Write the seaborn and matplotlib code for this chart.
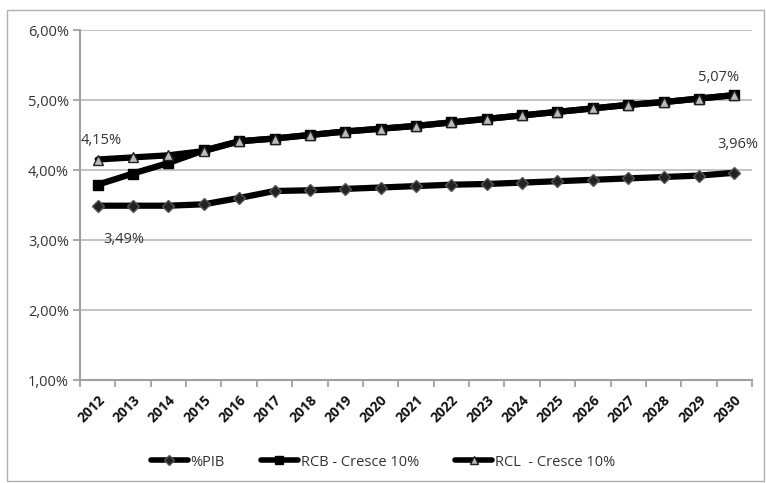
import matplotlib
matplotlib.use("Agg")
import matplotlib.pyplot as plt
import seaborn as sns
import pandas as pd
from matplotlib.lines import Line2D
from matplotlib.patches import Rectangle
from matplotlib.ticker import FuncFormatter, FixedLocator

years = [str(y) for y in range(2012, 2031)]
pib = [3.49, 3.49, 3.49, 3.51, 3.60, 3.70, 3.71, 3.73, 3.75, 3.77, 3.79, 3.80,
       3.82, 3.84, 3.86, 3.88, 3.90, 3.92, 3.96]
rcb = [3.79, 3.95, 4.10, 4.28, 4.41, 4.45, 4.50, 4.55, 4.59, 4.63, 4.68, 4.73,
       4.78, 4.83, 4.88, 4.93, 4.97, 5.02, 5.07]
rcl = [4.15, 4.18, 4.21, 4.27, 4.41, 4.45, 4.50, 4.55, 4.59, 4.63, 4.68, 4.73,
       4.78, 4.83, 4.88, 4.93, 4.97, 5.02, 5.07]
series_names = ["%PIB", "RCB - Cresce 10%", "RCL  - Cresce 10%"]

sns.set_theme(style="white")
plt.rcParams['font.family'] = ['Open Sans', 'DejaVu Sans']

fig = plt.figure(figsize=(7.66, 4.83), dpi=100)
ax = fig.add_axes([80/766, 1-380/483, (752-80)/766, 350/483])

fig.patches.append(Rectangle((7/766, 0.004), 1-7/766-0.003, 1-10/483-0.004,
                             transform=fig.transFigure, fill=False,
                             edgecolor="#b0b0b0", linewidth=1))

x = list(range(len(years)))
df = pd.DataFrame({"x": x * 3,
                   "v": pib + rcb + rcl,
                   "s": [series_names[0]] * len(x) + [series_names[1]] * len(x) + [series_names[2]] * len(x)})

styles = {
    series_names[0]: dict(marker="D", ms=6, mfc="#222222", mec="#555555"),
    series_names[1]: dict(marker="s", ms=7, mfc="#000000", mec="#000000"),
    series_names[2]: dict(marker="^", ms=6.5, mfc="#bbbbbb", mec="#222222"),
}
for name in series_names:
    sub = df[df.s == name]
    st = styles[name]
    sns.lineplot(data=sub, x="x", y="v", ax=ax, color="black", linewidth=4.5,
                 marker=st["marker"], markersize=st["ms"],
                 markerfacecolor=st["mfc"], markeredgecolor=st["mec"],
                 markeredgewidth=1, legend=False, zorder=3)

ax.set_xlim(-0.5, len(years) - 0.5)
ax.set_ylim(1.0, 6.0)
ax.set_yticks([1, 2, 3, 4, 5, 6])
ax.yaxis.set_major_formatter(FuncFormatter(lambda v, p: f"{v:.2f}".replace(".", ",") + "%"))
ax.yaxis.grid(True, color="#b8b8b8", linewidth=1.2)
ax.set_axisbelow(True)

ax.set_xticks(x)
ax.set_xticklabels(years, rotation=45, ha="right", rotation_mode="anchor",
                   fontsize=10, fontweight="bold", color="#111111")
ax.xaxis.set_minor_locator(FixedLocator([i - 0.5 for i in range(len(years) + 1)]))
ax.tick_params(axis="x", which="major", length=0, pad=9)
ax.tick_params(axis="x", which="minor", length=5, color="#999999", width=1.2, bottom=True)
ax.tick_params(axis="y", length=5, color="#999999", width=1.2, left=True,
               labelsize=10.5, labelcolor="#333333", pad=3)
ax.set_xlabel("")
ax.set_ylabel("")

for s in ["top", "right"]:
    ax.spines[s].set_visible(False)
for s in ["left", "bottom"]:
    ax.spines[s].set_color("#a0a0a0")
    ax.spines[s].set_linewidth(1.5)

ax.text(0.1, 4.15 + 0.17, "4,15%", ha="center", va="bottom", fontsize=10.5, color="#333333")
ax.text(0.75, 3.49 - 0.38, "3,49%", ha="center", va="top", fontsize=10.5, color="#333333")
ax.text(17.55, 5.07 + 0.15, "5,07%", ha="center", va="bottom", fontsize=10.5, color="#333333")
ax.text(18.1, 3.96 + 0.3, "3,96%", ha="center", va="bottom", fontsize=10.5, color="#333333")

handles = []
for name in series_names:
    st = styles[name]
    handles.append(Line2D([], [], color="black", linewidth=4, marker=st["marker"],
                          markersize=st["ms"] - 1, markerfacecolor=st["mfc"],
                          markeredgecolor=st["mec"]))
fig.legend(handles, series_names, loc="center", bbox_to_anchor=(0.5, 1 - 462/483),
           ncol=3, frameon=False, fontsize=10.5, handlelength=2.5, handletextpad=0.2,
           columnspacing=2.5, labelcolor="#333333")

fig.savefig("out.png", dpi=100)
